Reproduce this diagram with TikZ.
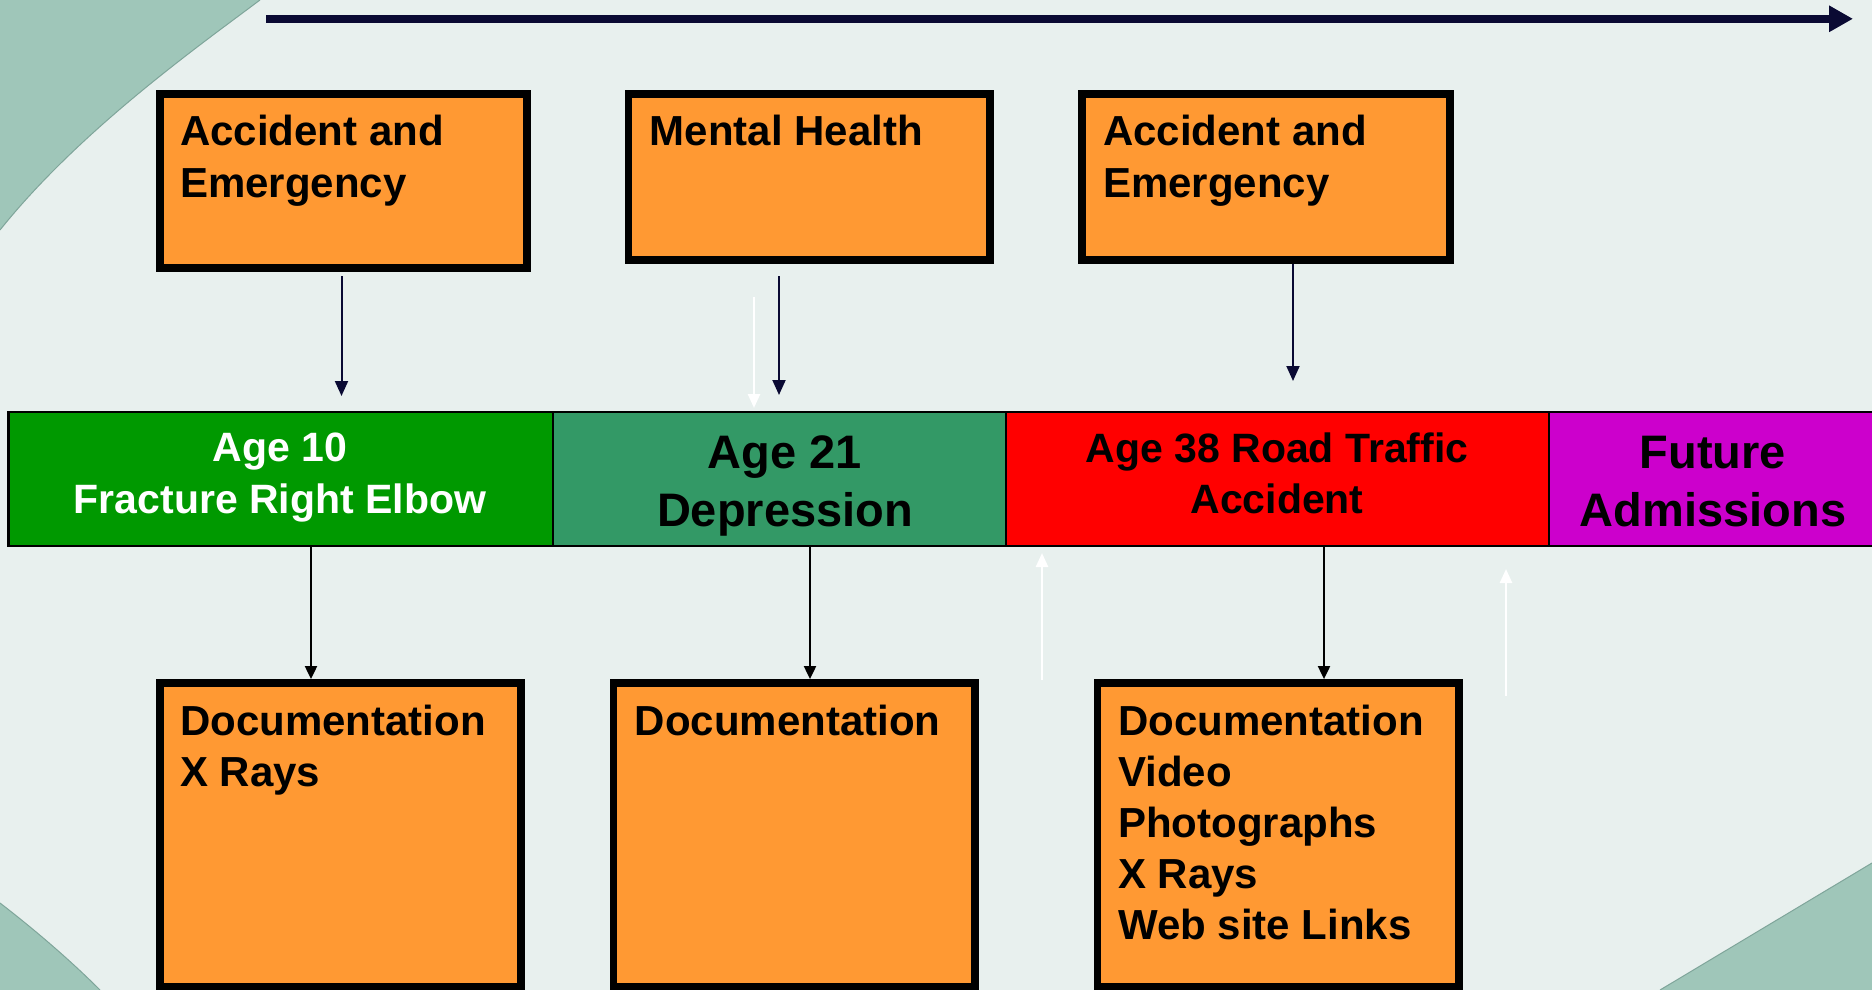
\documentclass[tikz,border=0pt]{standalone}
\usepackage{fontspec}
\setmainfont{Liberation Sans}
\usetikzlibrary{arrows.meta}
\definecolor{bgl}{HTML}{E8F0EE}
\definecolor{tealbg}{HTML}{9FC6B9}
\definecolor{tealedge}{HTML}{7FA59A}
\definecolor{orng}{HTML}{FF9933}
\definecolor{navy}{HTML}{0A0A33}
\definecolor{cgreen}{HTML}{009900}
\definecolor{cteal}{HTML}{339966}
\definecolor{cred}{HTML}{FF0000}
\definecolor{cmag}{HTML}{CC00CC}
\begin{document}
\begin{tikzpicture}[x=1pt,y=-1pt,
  obox/.style={draw=black, line width=7.7pt, fill=orng, inner sep=0pt},
  cell/.style={draw=black, line width=2.5pt, inner sep=0pt, minimum height=133.6pt},
  tl/.style={font=\fontsize{42}{50}\selectfont\bfseries, inner sep=0pt, anchor=base west, text=black},
  tm/.style={font=\fontsize{41}{50}\selectfont\bfseries, inner sep=0pt, anchor=base},
  tb/.style={font=\fontsize{47}{56}\selectfont\bfseries, inner sep=0pt, anchor=base, text=black},
  navyarr/.style={draw=navy, line width=2pt, -{Triangle[width=13pt,length=15pt]}},
  blkarr/.style={draw=black, line width=2pt, -{Triangle[width=12pt,length=13pt]}},
  whtarr/.style={draw=white, line width=2.5pt, -{Triangle[width=12pt,length=14pt]}}
]
\useasboundingbox (0,0) rectangle (1872,990);
% background
\fill[bgl] (0,0) rectangle (1872,990);
\fill[tealbg] (0,0) -- (260,0) .. controls (200,45) and (80,130) .. (0,230) -- cycle;
\draw[tealedge, line width=1pt] (260,0) .. controls (200,45) and (80,130) .. (0,230);
\fill[tealbg] (0,903) .. controls (35,930) and (70,960) .. (100,990) -- (0,990) -- cycle;
\draw[tealedge, line width=1pt] (0,903) .. controls (35,930) and (70,960) .. (100,990);
\fill[tealbg] (1872,863) -- (1660,990) -- (1872,990) -- cycle;
\draw[tealedge, line width=1pt] (1872,863) -- (1660,990);

% top timeline arrow
\coordinate (tls) at (266,18.8);
\coordinate (tle) at (1853,18.8);
\draw[navy, line width=7.7pt, -{Triangle[width=25pt,length=24pt]}] (tls) -- (tle);

% top boxes
\node[obox, minimum width=366.8pt, minimum height=174pt] (tb1) at (343.7,180.9) {};
\node[obox, minimum width=361.7pt, minimum height=166.2pt] (tb2) at (809.25,177) {};
\node[obox, minimum width=368.2pt, minimum height=166.2pt] (tb3) at (1266,177) {};
\node[tl] (tb1a) at (180,145) {Accident and};
\node[tl] (tb1b) at (180,197) {Emergency};
\node[tl] (tb2a) at (649.6,145) {Mental Health};
\node[tl] (tb3a) at (1103,145) {Accident and};
\node[tl] (tb3b) at (1103,197) {Emergency};

% timeline bar
\node[cell, fill=cgreen, minimum width=544.5pt] (c1) at (280.75,479) {};
\node[cell, fill=cteal, minimum width=453pt] (c2) at (779.5,479) {};
\node[cell, fill=cred, minimum width=543pt] (c3) at (1277.5,479) {};
\node[cell, fill=cmag, minimum width=336pt] (c4) at (1717,479) {};
\node[tm, text=white] (c1a) at (280,461.7) {Age 10};
\node[tm, text=white] (c1b) at (280,513) {Fracture Right Elbow};
\node[tb] (c2a) at (785,468) {Age 21};
\node[tb] (c2b) at (785,526.7) {Depression};
\node[tm, text=black] (c3a) at (1277,462.7) {Age 38 Road Traffic};
\node[tm, text=black] (c3b) at (1277,513) {Accident};
\node[tb] (c4a) at (1713,468) {Future};
\node[tb] (c4b) at (1713,526.7) {Admissions};

% bottom boxes
\node[obox, minimum width=360.8pt, minimum height=304.1pt] (bb1) at (340.7,835) {};
\node[obox, minimum width=361.6pt, minimum height=304.1pt] (bb2) at (794.3,835) {};
\node[obox, minimum width=361.6pt, minimum height=304.1pt] (bb3) at (1278.3,835) {};
\node[tl] (bb1a) at (180,735) {Documentation};
\node[tl] (bb1b) at (180,786) {X Rays};
\node[tl] (bb2a) at (634.6,735) {Documentation};
\node[tl] (bb3a) at (1118,735) {Documentation};
\node[tl] (bb3b) at (1118,786) {Video};
\node[tl] (bb3c) at (1118,837) {Photographs};
\node[tl] (bb3d) at (1118,888) {X Rays};
\node[tl] (bb3e) at (1118,939) {Web site Links};

% arrows from top boxes
\coordinate (a1s) at (341.5,276);
\coordinate (a1e) at (341.5,396);
\coordinate (a2s) at (779,276);
\coordinate (a2e) at (779,395);
\coordinate (a3e) at (1293,381);
\draw[navyarr] (a1s) -- (a1e);
\draw[navyarr] (a2s) -- (a2e);
\draw[navyarr] (tb3.south -| a3e) -- (a3e);
\coordinate (w1s) at (754,297);
\coordinate (w1e) at (754,408);
\draw[whtarr] (w1s) -- (w1e);

% arrows down to bottom boxes
\coordinate (d1x) at (311,0);
\coordinate (d2x) at (810,0);
\coordinate (d3x) at (1324,0);
\draw[blkarr] (c1.south -| d1x) -- (bb1.north -| d1x);
\draw[blkarr] (c2.south -| d2x) -- (bb2.north -| d2x);
\draw[blkarr] (c3.south -| d3x) -- (bb3.north -| d3x);

% white up arrows
\coordinate (u1s) at (1042,680);
\coordinate (u1e) at (1042,553);
\coordinate (u2s) at (1506,696);
\coordinate (u2e) at (1506,569);
\draw[whtarr] (u1s) -- (u1e);
\draw[whtarr] (u2s) -- (u2e);
\end{tikzpicture}
\end{document}
